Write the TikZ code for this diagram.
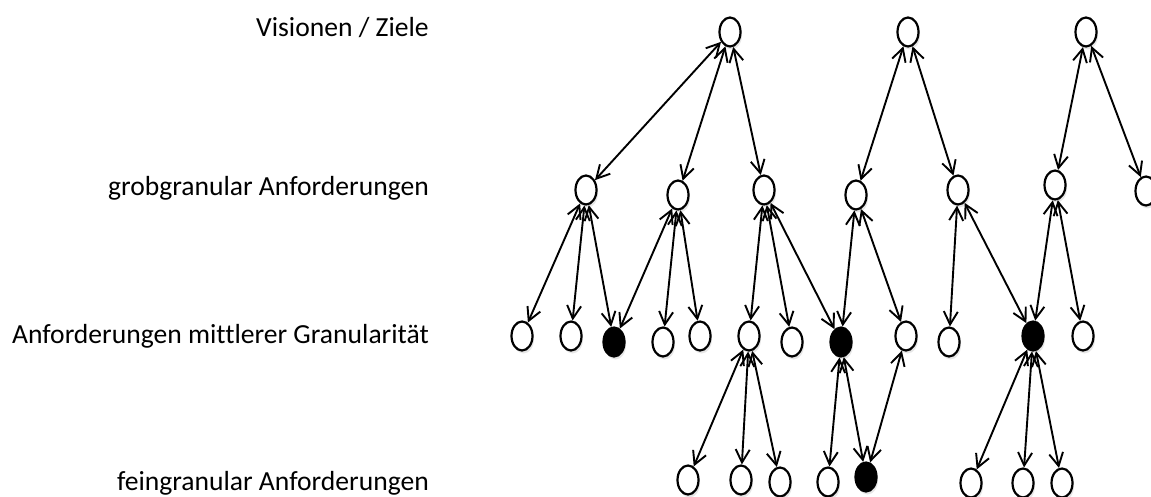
\documentclass[tikz,border=0pt]{standalone}
\usepackage{fontspec}
\setmainfont[Ligatures=NoCommon]{Carlito}
\usetikzlibrary{arrows.meta,shadows,shapes.geometric}
\begin{document}
\begin{tikzpicture}[x=1pt,y=-1pt,
  nd/.style={ellipse, draw, line width=2.2pt, minimum width=21pt, minimum height=29pt, inner sep=0pt, fill=white,
    drop shadow={opacity=0.2, shadow xshift=1.5pt, shadow yshift=-3pt}},
  bk/.style={nd, fill=black},
  lk/.style={line width=1.9pt, {Straight Barb[length=13pt,width=14pt]}-{Straight Barb[length=13pt,width=14pt]}},
  lbl/.style={anchor=base east, font=\fontsize{27.6}{30}\selectfont, inner sep=0pt}]
\useasboundingbox (0,0) rectangle (1151,497);

% labels
\node[lbl] (L1) at (429,37) {Visionen / Ziele};
\node[lbl] (L2) at (429,196) {grobgranular Anforderungen};
\node[lbl] (L3) at (429,343) {Anforderungen mittlerer Granularität};
\node[lbl] (L4) at (429,490) {feingranular Anforderungen};

% level 1
\node[nd] (V1) at (730,32) {};
\node[nd] (V2) at (908,32) {};
\node[nd] (V3) at (1086,32) {};

% level 2
\node[nd] (G1) at (586,190) {};
\node[nd] (G2) at (678,195) {};
\node[nd] (G3) at (764,190) {};
\node[nd] (G4) at (856,195) {};
\node[nd] (G5) at (958,190) {};
\node[nd] (G6) at (1055,185) {};
\node[nd] (G7) at (1146,191) {};

% level 3
\node[nd] (M1) at (522,336) {};
\node[nd] (M2) at (571,336) {};
\node[bk] (M3) at (614,342) {};
\node[nd] (M4) at (663,342) {};
\node[nd] (M5) at (700,336) {};
\node[nd] (M6) at (749,336) {};
\node[nd] (M7) at (792,342) {};
\node[bk] (M8) at (841,342) {};
\node[nd] (M9) at (906,336) {};
\node[nd] (M10) at (949,342) {};
\node[bk] (M11) at (1033,336) {};
\node[nd] (M12) at (1083,336) {};

% level 4
\node[nd] (F1) at (688,480) {};
\node[nd] (F2) at (741,480) {};
\node[nd] (F3) at (780,482) {};
\node[nd] (F4) at (828,482) {};
\node[bk] (F5) at (866,477) {};
\node[nd] (F6) at (971,483) {};
\node[nd] (F7) at (1023,483) {};
\node[nd] (F8) at (1062,483) {};

% connectors
\foreach \a/\b in {V1/G1,V1/G2,V1/G3,V2/G4,V2/G5,V3/G6,V3/G7,
  G1/M1,G1/M2,G1/M3,G2/M3,G2/M4,G2/M5,G3/M6,G3/M7,G3/M8,
  G4/M8,G4/M9,G5/M10,G5/M11,G6/M11,G6/M12,
  M6/F1,M6/F2,M6/F3,M8/F4,M8/F5,M9/F5,M11/F6,M11/F7,M11/F8}
  \draw[lk] (\a) -- (\b);
\end{tikzpicture}
\end{document}
